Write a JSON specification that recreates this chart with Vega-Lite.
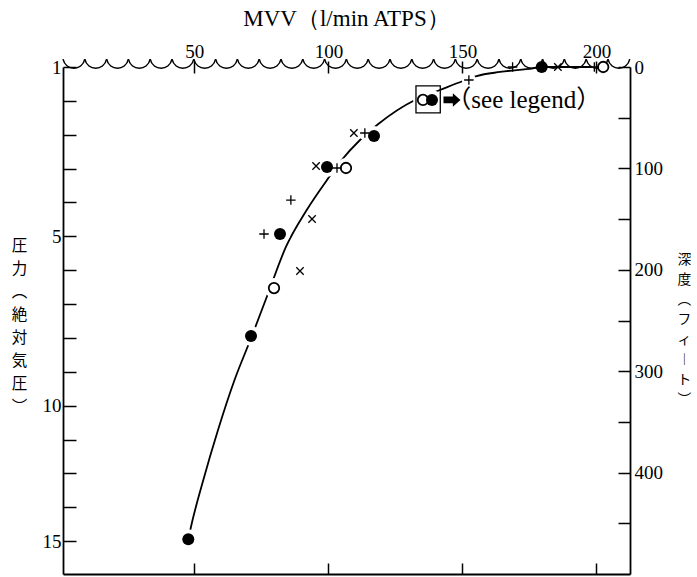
{
  "$schema": "https://vega.github.io/schema/vega-lite/v6.json",
  "width": 567,
  "height": 507,
  "autosize": "none",
  "padding": {"left": 63, "top": 67, "right": 67, "bottom": 3},
  "background": "white",
  "config": {
    "view": {"stroke": null},
    "axis": {
      "grid": false,
      "domainColor": "black",
      "tickColor": "black",
      "labelColor": "black",
      "titleColor": "black",
      "labelFont": "Liberation Serif",
      "labelFontSize": 19,
      "labelOverlap": false,
      "tickWidth": 1.5,
      "domainWidth": 1.8,
      "titleFontWeight": "normal"
    }
  },
  "datasets": {
    "wave": [
      {"mvv": 5.07, "depth": 0}, {"mvv": 13.2, "depth": 0}, {"mvv": 21.33, "depth": 0},
      {"mvv": 29.46, "depth": 0}, {"mvv": 37.59, "depth": 0}, {"mvv": 45.73, "depth": 0},
      {"mvv": 53.86, "depth": 0}, {"mvv": 61.99, "depth": 0}, {"mvv": 70.12, "depth": 0},
      {"mvv": 78.25, "depth": 0}, {"mvv": 86.38, "depth": 0}, {"mvv": 94.51, "depth": 0},
      {"mvv": 102.64, "depth": 0}, {"mvv": 110.77, "depth": 0}, {"mvv": 118.91, "depth": 0},
      {"mvv": 127.04, "depth": 0}, {"mvv": 135.17, "depth": 0}, {"mvv": 143.3, "depth": 0},
      {"mvv": 151.43, "depth": 0}, {"mvv": 159.56, "depth": 0}, {"mvv": 167.69, "depth": 0},
      {"mvv": 175.82, "depth": 0}, {"mvv": 183.95, "depth": 0}, {"mvv": 192.09, "depth": 0},
      {"mvv": 200.22, "depth": 0}, {"mvv": 208.35, "depth": 0}
    ],
    "curve": [
      {"mvv": 47.74, "depth": 465.8},
      {"mvv": 48.64, "depth": 454.6},
      {"mvv": 53.34, "depth": 407.3},
      {"mvv": 58.82, "depth": 358.0},
      {"mvv": 64.98, "depth": 308.7},
      {"mvv": 71.32, "depth": 266.3},
      {"mvv": 77.28, "depth": 224.9},
      {"mvv": 84.19, "depth": 177.2},
      {"mvv": 91.91, "depth": 141.0},
      {"mvv": 99.48, "depth": 111.4},
      {"mvv": 104.96, "depth": 91.7},
      {"mvv": 111.79, "depth": 72.0},
      {"mvv": 118.61, "depth": 56.2},
      {"mvv": 132.3, "depth": 32.5},
      {"mvv": 141.63, "depth": 22.7},
      {"mvv": 150.2, "depth": 13.8},
      {"mvv": 155.31, "depth": 8.9},
      {"mvv": 164.01, "depth": 4.9},
      {"mvv": 176.32, "depth": 1.3},
      {"mvv": 179.57, "depth": 0},
      {"mvv": 198.32, "depth": 0}
    ],
    "points": [
      {"mvv": 179.57, "depth": 0, "type": "filled"},
      {"mvv": 138.64, "depth": 32.5, "type": "filled"},
      {"mvv": 117.01, "depth": 68.0, "type": "filled"},
      {"mvv": 99.48, "depth": 98.6, "type": "filled"},
      {"mvv": 81.95, "depth": 164.7, "type": "filled"},
      {"mvv": 71.13, "depth": 265.3, "type": "filled"},
      {"mvv": 47.74, "depth": 465.8, "type": "filled"},
      {"mvv": 202.5, "depth": 0, "type": "open"},
      {"mvv": 135.28, "depth": 32.5, "type": "open"},
      {"mvv": 106.56, "depth": 99.6, "type": "open"},
      {"mvv": 79.71, "depth": 218.0, "type": "open"},
      {"mvv": 168.7, "depth": 0, "type": "plus"},
      {"mvv": 152.4, "depth": 12.8, "type": "plus"},
      {"mvv": 113.6, "depth": 65.1, "type": "plus"},
      {"mvv": 103.2, "depth": 99.6, "type": "plus"},
      {"mvv": 86.0, "depth": 131.2, "type": "plus"},
      {"mvv": 75.98, "depth": 164.7, "type": "plus"},
      {"mvv": 199.2, "depth": 0, "type": "plus"},
      {"mvv": 185.6, "depth": 0, "type": "cross"},
      {"mvv": 109.5, "depth": 65.1, "type": "cross"},
      {"mvv": 95.4, "depth": 97.6, "type": "cross"},
      {"mvv": 93.9, "depth": 149.9, "type": "cross"},
      {"mvv": 89.4, "depth": 201.2, "type": "cross"}
    ],
    "box": [{"mvv": 137.2, "depth": 32}],
    "arrow": [{"mvv": 146.1, "depth": 32.5}],
    "note": [{"mvv": 144.0, "depth": 32.5, "text": "（see legend）"}]
  },
  "layer": [
    {
      "data": {"name": "wave"},
      "mark": {"type": "point", "shape": "M-1,-0.72C-0.75,0.4,0.75,0.4,1,-0.72", "size": 475, "filled": false, "stroke": "black", "strokeWidth": 1.5, "opacity": 1},
      "encoding": {
        "x": {
          "field": "mvv", "type": "quantitative",
          "scale": {"domain": [1, 212.5], "nice": false, "zero": false},
          "axis": {
            "orient": "top", "domain": false, "values": [50, 100, 150, 200],
            "tickSize": 12, "offset": -6, "labelPadding": 4, "labelBaseline": "alphabetic",
            "title": "MVV（l/min ATPS）", "titleFont": "Liberation Serif", "titleFontSize": 23,
            "titleX": 283, "titleY": -55, "titleBaseline": "middle", "titleAlign": "center", "titlePadding": 0
          }
        },
        "y": {
          "field": "depth", "type": "quantitative",
          "scale": {"domain": [0, 500], "nice": false, "zero": false, "reverse": true},
          "axis": {
            "orient": "left",
            "values": [0, 33.4, 66.8, 100.2, 133.6, 167, 200.4, 233.8, 267.2, 300.6, 334, 367.4, 400.8, 434.2, 467.6],
            "labelExpr": "datum.value == 0 ? '1' : datum.value == 167 ? '5' : datum.value == 334 ? '10' : datum.value == 467.6 ? '15' : ''",
            "tickSize": -13, "labelPadding": 15, "labelBaseline": "middle",
            "title": ["圧", "力", "︵", "絶", "対", "気", "圧", "︶"],
            "titleFont": "Noto Sans CJK JP", "titleFontSize": 15.5, "titleLineHeight": 23,
            "titleAngle": 0, "titleAlign": "center", "titleBaseline": "middle",
            "titleX": -44, "titleY": 178
          }
        }
      }
    },
    {
      "data": {"name": "curve"},
      "mark": {"type": "line", "interpolate": "monotone", "color": "black", "strokeWidth": 1.8},
      "encoding": {
        "x": {
          "field": "mvv", "type": "quantitative",
          "axis": {"orient": "bottom", "labels": false, "values": [50, 100, 150, 200], "tickSize": -11, "title": null}
        },
        "y": {
          "field": "depth", "type": "quantitative",
          "axis": {
            "orient": "right", "values": [0, 50, 100, 150, 200, 250, 300, 350, 400, 450],
            "labelExpr": "datum.value % 100 == 0 ? datum.label : ''",
            "tickSize": -12, "labelPadding": 16, "labelBaseline": "middle",
            "title": ["深", "度", "︵", "フ", "ィ", "︱", "ト", "︶"],
            "titleFont": "Noto Sans CJK JP", "titleFontSize": 13.8, "titleLineHeight": 20,
            "titleAngle": 0, "titleAlign": "center", "titleBaseline": "middle",
            "titleX": 54, "titleY": 192
          }
        }
      }
    },
    {
      "data": {"name": "points"},
      "transform": [{"filter": "datum.depth > 5 && (datum.type == 'filled' || datum.type == 'open')"}],
      "mark": {"type": "point", "shape": "circle", "filled": true, "color": "white", "size": 400, "opacity": 1},
      "encoding": {
        "x": {"field": "mvv", "type": "quantitative", "axis": null},
        "y": {"field": "depth", "type": "quantitative", "axis": null}
      }
    },
    {
      "data": {"name": "points"},
      "transform": [{"filter": "datum.depth > 5 && (datum.type == 'plus' || datum.type == 'cross')"}],
      "mark": {"type": "point", "shape": "circle", "filled": true, "color": "white", "size": 200, "opacity": 1},
      "encoding": {
        "x": {"field": "mvv", "type": "quantitative", "axis": null},
        "y": {"field": "depth", "type": "quantitative", "axis": null}
      }
    },
    {
      "data": {"name": "points"},
      "transform": [{"filter": "datum.type == 'open'"}],
      "mark": {"type": "point", "shape": "circle", "filled": true, "fill": "white", "stroke": "black", "strokeWidth": 1.8, "size": 110, "opacity": 1},
      "encoding": {
        "x": {"field": "mvv", "type": "quantitative", "axis": null},
        "y": {"field": "depth", "type": "quantitative", "axis": null}
      }
    },
    {
      "data": {"name": "points"},
      "transform": [{"filter": "datum.type == 'filled'"}],
      "mark": {"type": "point", "shape": "circle", "filled": true, "color": "black", "size": 144, "opacity": 1},
      "encoding": {
        "x": {"field": "mvv", "type": "quantitative", "axis": null},
        "y": {"field": "depth", "type": "quantitative", "axis": null}
      }
    },
    {
      "data": {"name": "points"},
      "transform": [{"filter": "datum.type == 'plus'"}],
      "mark": {"type": "point", "shape": "M-1,0L1,0M0,-1L0,1", "filled": false, "stroke": "black", "strokeWidth": 1.3, "size": 90, "opacity": 1},
      "encoding": {
        "x": {"field": "mvv", "type": "quantitative", "axis": null},
        "y": {"field": "depth", "type": "quantitative", "axis": null}
      }
    },
    {
      "data": {"name": "points"},
      "transform": [{"filter": "datum.type == 'cross'"}],
      "mark": {"type": "point", "shape": "M-1,-1L1,1M-1,1L1,-1", "filled": false, "stroke": "black", "strokeWidth": 1.3, "size": 55, "opacity": 1},
      "encoding": {
        "x": {"field": "mvv", "type": "quantitative", "axis": null},
        "y": {"field": "depth", "type": "quantitative", "axis": null}
      }
    },
    {
      "data": {"name": "box"},
      "mark": {"type": "point", "shape": "M-0.9,-1L0.9,-1L0.9,1L-0.9,1Z", "filled": false, "stroke": "black", "strokeWidth": 1.3, "size": 729, "opacity": 1},
      "encoding": {
        "x": {"field": "mvv", "type": "quantitative", "axis": null},
        "y": {"field": "depth", "type": "quantitative", "axis": null}
      }
    },
    {
      "data": {"name": "arrow"},
      "mark": {"type": "point", "shape": "M-1,-0.4L0.1,-0.4L0.1,-0.8L1,0L0.1,0.8L0.1,0.4L-1,0.4Z", "filled": true, "color": "black", "size": 289, "opacity": 1},
      "encoding": {
        "x": {"field": "mvv", "type": "quantitative", "axis": null},
        "y": {"field": "depth", "type": "quantitative", "axis": null}
      }
    },
    {
      "data": {"name": "note"},
      "mark": {"type": "text", "align": "left", "baseline": "middle", "font": "Liberation Serif, Noto Sans CJK JP", "fontSize": 25, "color": "black"},
      "encoding": {
        "x": {"field": "mvv", "type": "quantitative", "axis": null},
        "y": {"field": "depth", "type": "quantitative", "axis": null},
        "text": {"field": "text"}
      }
    }
  ],
  "resolve": {"axis": {"x": "independent", "y": "independent"}}
}
